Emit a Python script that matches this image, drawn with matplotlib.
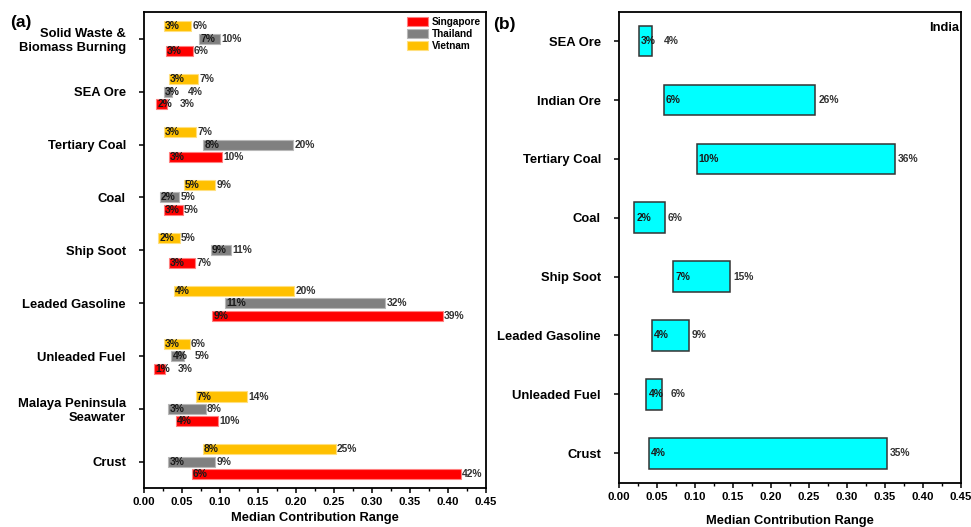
import matplotlib
matplotlib.use("Agg")
import matplotlib.pyplot as plt
from matplotlib.patches import Patch
from matplotlib.ticker import MultipleLocator, FormatStrFormatter
import numpy as np

plt.rcParams['font.family'] = ['Liberation Sans', 'DejaVu Sans']
plt.rcParams['font.weight'] = 'bold'

# ---- Panel (a): Singapore / Thailand / Vietnam ----
categories_a = ["Solid Waste &\nBiomass Burning", "SEA Ore", "Tertiary Coal", "Coal",
                "Ship Soot", "Leaded Gasoline", "Unleaded Fuel",
                "Malaya Peninsula\nSeawater", "Crust"]

singapore_low = [0.029, 0.016, 0.033, 0.026, 0.033, 0.090, 0.013, 0.042, 0.063]
singapore_high = [0.064, 0.030, 0.102, 0.051, 0.067, 0.393, 0.027, 0.098, 0.417]

thailand_low = [0.073, 0.026, 0.078, 0.021, 0.088, 0.107, 0.036, 0.032, 0.032]
thailand_high = [0.100, 0.037, 0.196, 0.046, 0.114, 0.317, 0.052, 0.081, 0.094]

vietnam_low = [0.026, 0.033, 0.026, 0.052, 0.019, 0.039, 0.026, 0.068, 0.077]
vietnam_high = [0.062, 0.071, 0.069, 0.094, 0.047, 0.198, 0.060, 0.136, 0.252]

# ---- Panel (b): India ----
categories_b = ["SEA Ore", "Indian Ore", "Tertiary Coal", "Coal", "Ship Soot",
                "Leaded Gasoline", "Unleaded Fuel", "Crust"]
india_low = [0.026, 0.059, 0.102, 0.020, 0.071, 0.043, 0.036, 0.039]
india_high = [0.044, 0.258, 0.363, 0.060, 0.146, 0.092, 0.057, 0.352]

series_a = [
    ("Vietnam", vietnam_low, vietnam_high, "#FFC000", "#FFE080", -0.236),
    ("Thailand", thailand_low, thailand_high, "#808080", "#B8B8B8", 0.0),
    ("Singapore", singapore_low, singapore_high, "#FF0000", "#FF8080", 0.236),
]
legend_order = ["Singapore", "Thailand", "Vietnam"]

fig = plt.figure(figsize=(9.71, 5.27), dpi=100)
ax_a = fig.add_axes([0.1483, 0.0734, 0.3522, 0.9032])
ax_b = fig.add_axes([0.6375, 0.0841, 0.3522, 0.8937])

pct = lambda v: f"{v * 100:.0f}%"
lab_kw = dict(fontsize=7.4, fontweight='bold', va='center')

# (axes, y, low, high, low-label offset pt, high-label offset pt)
range_labels = []

y_a = np.arange(len(categories_a))
for name, lo, hi, col, edge, off in series_a:
    lo = np.asarray(lo)
    hi = np.asarray(hi)
    ax_a.barh(y_a + off, hi - lo, left=lo, height=0.19, color=col,
              edgecolor=edge, linewidth=0.8)
    for yy, l, h in zip(y_a + off, lo, hi):
        range_labels.append((ax_a, yy, l, h, 0.8, 1.0))

y_b = np.arange(len(categories_b))
lo_b = np.asarray(india_low)
hi_b = np.asarray(india_high)
ax_b.barh(y_b, hi_b - lo_b, left=lo_b, height=0.52, color="#00FFFF",
          edgecolor="#333333", linewidth=1.1)
for yy, l, h in zip(y_b, lo_b, hi_b):
    range_labels.append((ax_b, yy, l, h, 1.6, 2.2))

for ax, cats, pad in [(ax_a, categories_a, 3.5), (ax_b, categories_b, 9.5)]:
    ax.set_xlim(0, 0.45)
    ax.set_ylim(len(cats) - 0.5, -0.5)
    ax.set_yticks(np.arange(len(cats)))
    ax.set_yticklabels(cats, fontsize=9.4, fontweight='bold')
    ax.xaxis.set_major_locator(MultipleLocator(0.05))
    ax.xaxis.set_minor_locator(MultipleLocator(0.025))
    ax.xaxis.set_major_formatter(FormatStrFormatter('%.2f'))
    for lbl in ax.get_xticklabels():
        lbl.set_fontweight('bold')
    ax.tick_params(axis='x', which='major', direction='out', length=3.5, width=1.1,
                   labelsize=8.2, pad=3)
    ax.tick_params(axis='x', which='minor', direction='out', length=2, width=1)
    ax.tick_params(axis='y', which='major', direction='out', length=3.5, width=1.1,
                   pad=9.5)
    for sp in ax.spines.values():
        sp.set_linewidth(1.3)
    ax.set_xlabel("Median Contribution Range", fontsize=9.3, fontweight='bold',
                  labelpad=pad)

# Low value inside the bar start, high value after the bar end; when the bar is
# shorter than its low label, the high label follows the low label instead.
low_texts = []
for ax, yy, l, h, lo_off, hi_off in range_labels:
    t = ax.annotate(pct(l), (l, yy), xytext=(lo_off, 0), textcoords='offset points',
                    ha='left', color='#1a1a1a', **lab_kw)
    low_texts.append(t)

fig.canvas.draw()
renderer = fig.canvas.get_renderer()
pt = fig.dpi / 72.0
for (ax, yy, l, h, lo_off, hi_off), t in zip(range_labels, low_texts):
    bar_end = ax.transData.transform((h, yy))[0]
    text_end = t.get_window_extent(renderer).x1
    if text_end + 2 * pt > bar_end:
        ax.annotate(pct(h), xy=(1, 0.5), xycoords=t, xytext=(5.5, 0),
                    textcoords='offset points', ha='left', color='#333333',
                    **lab_kw)
    else:
        ax.annotate(pct(h), (h, yy), xytext=(hi_off, 0), textcoords='offset points',
                    ha='left', color='#333333', **lab_kw)

handles = {name: Patch(facecolor=col, edgecolor=edge, linewidth=0.8)
           for name, lo, hi, col, edge, off in series_a}
ax_a.legend([handles[n] for n in legend_order], legend_order, loc='upper right',
            frameon=False, prop={'weight': 'bold', 'size': 7.2},
            handlelength=2.05, handleheight=1.0, labelspacing=0.2,
            handletextpad=0.4, borderaxespad=0.3, borderpad=0.2)

ax_b.text(0.995, 0.978, "India", transform=ax_b.transAxes, ha='right', va='top',
          fontsize=9.3, fontweight='bold')

fig.text(10 / 971, 1 - 23 / 527, "(a)", fontsize=12.5, fontweight='bold',
         ha='left', va='center')
fig.text(493 / 971, 1 - 25 / 527, "(b)", fontsize=12.5, fontweight='bold',
         ha='left', va='center')

fig.savefig("out.png", dpi=100)
